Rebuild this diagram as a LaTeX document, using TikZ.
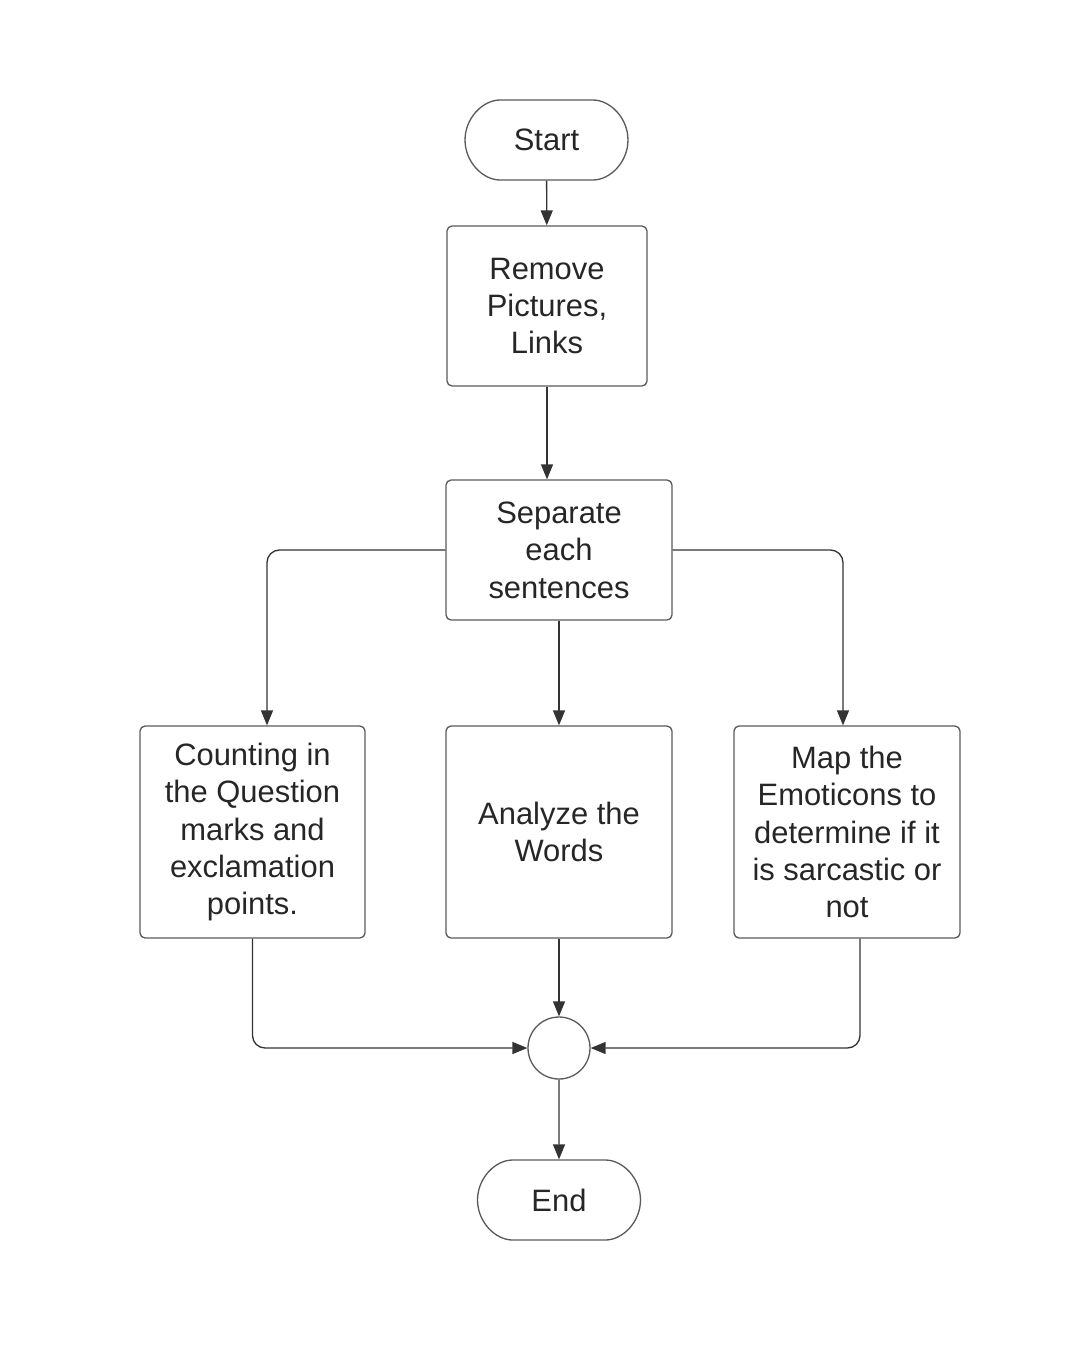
\documentclass[tikz,border=0pt]{standalone}
\usepackage{fontspec}
\setmainfont{Liberation Sans}
\usetikzlibrary{arrows.meta,positioning,shapes.misc}
\definecolor{boxline}{HTML}{5A5A5A}
\definecolor{arrline}{HTML}{333333}
\tikzset{
    %Define standard arrow tip
    >={Triangle[length=8.5pt,width=6.8pt]},
    %Define style for boxes
    stepbox/.style={
           rectangle,
           rounded corners=0.1cm,
           draw=boxline, line width=0.75pt,
           align=center,
           inner sep=0pt,
           font=\fontsize{17.6}{21.3}\selectfont,
           text=black!85},
    % Define style for start and end
    terminal/.style={
           stepbox,
           rounded rectangle,
           minimum width=3.26cm,
           minimum height=1.6cm},
    % Define style for the join circle
    joiner/.style={
           circle,
           draw=boxline, line width=0.75pt,
           minimum size=1.24cm},
    % Define arrow style
    pil/.style={
           ->,
           draw=arrline,
           line width=0.75pt,
           rounded corners=0.25cm},
}

\begin{document}
\begin{tikzpicture}[x=0.02cm, y=-0.02cm]
        \useasboundingbox (0,0) rectangle (1077,1360);
        %nodes

        % start node
        \node[terminal] (start) at (546.5,140) {Start};

        % remove node
        \node[stepbox, minimum width=4cm, minimum height=3.2cm]
        (remove) at (547,306)
        {Remove\\Pictures,\\Links};

        % separate node
        \node[stepbox, minimum width=4.52cm, minimum height=2.8cm]
        (separate) at (559,550)
        {Separate\\each\\sentences};

        % counting node
        \node[stepbox, minimum width=4.5cm, minimum height=4.24cm]
        (counting) at (252.5,832)
        {Counting in\\the Question\\marks and\\exclamation\\points.};

        % analyze node
        \node[stepbox, minimum width=4.52cm, minimum height=4.24cm]
        (analyze) at (559,832)
        {Analyze the\\Words};

        % map node
        \node[stepbox, minimum width=4.52cm, minimum height=4.24cm]
        (map) at (847,832)
        {Map the\\Emoticons to\\determine if it\\is sarcastic or\\not};

        % join node
        \node[joiner] (join) at (559,1048) {};

        % end node
        \node[terminal] (end) at (559,1200) {End};

        % connectors
        \draw[pil] (start) -- (remove);
        \draw[pil] (remove.south) -- (remove.south |- separate.north);
        \draw[pil] (separate.west) -| ([xshift=0.29cm]counting.north);
        \draw[pil] (separate) -- (analyze);
        \draw[pil] (separate.east) -| ([xshift=-0.08cm]map.north);
        \draw[pil] (counting.south) |- (join.west);
        \draw[pil] (analyze) -- (join);
        \draw[pil] ([xshift=0.26cm]map.south) |- (join.east);
        \draw[pil] (join) -- (end);

    \end{tikzpicture}
\end{document}
